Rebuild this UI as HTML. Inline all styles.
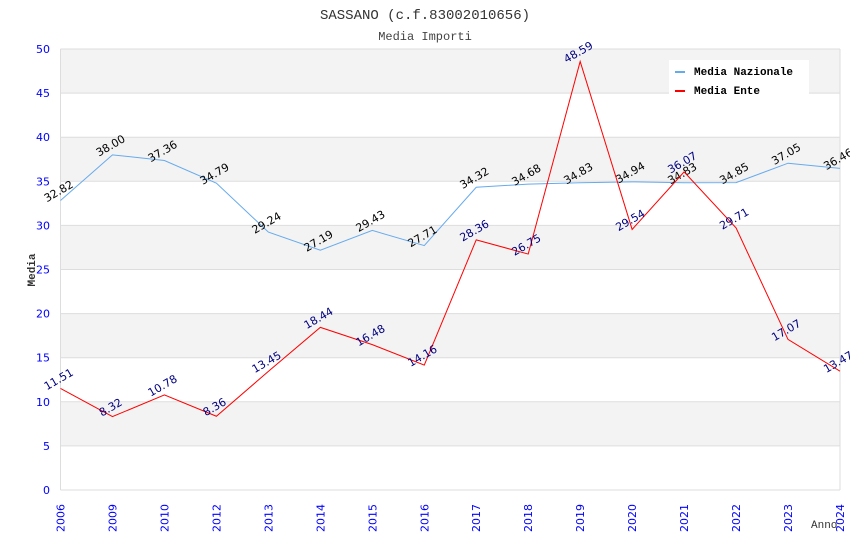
<!DOCTYPE html>
<html><head><meta charset="utf-8"><style>
body{margin:0;background:#fff}
#chart text{font-family:"DejaVu Sans","Liberation Sans",sans-serif}
</style></head><body>
<svg id="chart" style="position:absolute;left:0;top:0" width="850" height="550" xmlns="http://www.w3.org/2000/svg"></svg>
<script>
const categories=["2006","2009","2010","2012","2013","2014","2015","2016","2017","2018","2019","2020","2021","2022","2023","2024"];
const nazionale=[32.82,38.00,37.36,34.79,29.24,27.19,29.43,27.71,34.32,34.68,34.83,34.94,34.83,34.85,37.05,36.46];
const ente=[11.51,8.32,10.78,8.36,13.45,18.44,16.48,14.16,28.36,26.75,48.59,29.54,36.07,29.71,17.07,13.47];
const yTicks=[0,5,10,15,20,25,30,35,40,45,50];
const NS="http://www.w3.org/2000/svg";
const svg=document.getElementById('chart');
const L=60.5,R=840,T=49,B=490,YMAX=50;
const x=i=>L+i*(R-L)/(categories.length-1);
const y=v=>B-v*(B-T)/YMAX;
function mk(tag,attrs,parent){const e=document.createElementNS(NS,tag);for(const k in attrs)e.setAttribute(k,attrs[k]);(parent||svg).appendChild(e);return e;}
for(let i=0;i<yTicks.length-1;i++){
  if(i%2===1){const r=mk('rect',{x:L,y:y(yTicks[i+1]),width:R-L,height:y(yTicks[i])-y(yTicks[i+1]),fill:'#f3f3f3'});
  
  }
}
yTicks.forEach(v=>{
  const l=mk('line',{x1:L,x2:R,y1:y(v),y2:y(v),stroke:'#dddddd','stroke-width':1});
  
  
  const t=mk('text',{x:50,y:y(v)+4,'text-anchor':'end','font-size':11,fill:'#0000ff'});
  t.textContent=v;
  
  
});
const ax=mk('line',{x1:L,x2:L,y1:T,y2:B,stroke:'#dddddd'});


const ax2=mk('line',{x1:R,x2:R,y1:T,y2:B,stroke:'#dddddd'});


categories.forEach((c,i)=>{
  const t=mk('text',{transform:`translate(${x(i)+4},532) rotate(-90)`,'font-size':11,fill:'#0000ff'});
  t.textContent=c;
  
  
});
function series(vals,color,labColor,name){
  const p=mk('polyline',{points:vals.map((v,i)=>x(i)+','+y(v)).join(' '),fill:'none',stroke:color,'stroke-width':1});
  
  
  vals.forEach((v,i)=>{
    const t=mk('text',{transform:`translate(${x(i)},${y(v)-6}) rotate(-30)`,'text-anchor':'middle','font-size':11,fill:labColor});
    t.textContent=v.toFixed(2);
    
    
  });
}
series(nazionale,'#66aaee','#000000','media-nazionale');
series(ente,'#ff0000','#000080','media-ente');
</script>
<svg style="position:absolute;left:0;top:0" width="850" height="550" xmlns="http://www.w3.org/2000/svg">
<text x="425" y="19" text-anchor="middle" font-family="Liberation Mono,monospace" font-size="14" fill="#333">SASSANO (c.f.83002010656)</text>
<text x="425" y="40" text-anchor="middle" font-family="Liberation Mono,monospace" font-size="12" fill="#444">Media Importi</text>
<text transform="translate(35,270) rotate(-90)" text-anchor="middle" font-family="Liberation Mono,monospace" font-size="11" font-weight="bold" fill="#333">Media</text>
<text x="811" y="528" font-family="Liberation Mono,monospace" font-size="11" fill="#333">Anno</text>
<g>
<rect x="669" y="60" width="140" height="37" fill="#fff"/>
<rect x="675" y="71" width="10" height="2" fill="#66aaee"/>
<text x="694" y="75" font-family="Liberation Mono,monospace" font-size="11" font-weight="bold" fill="#000">Media Nazionale</text>
<rect x="675" y="90" width="10" height="2" fill="#ff0000"/>
<text x="694" y="94" font-family="Liberation Mono,monospace" font-size="11" font-weight="bold" fill="#000">Media Ente</text>
</g>
</svg>
</body></html>
